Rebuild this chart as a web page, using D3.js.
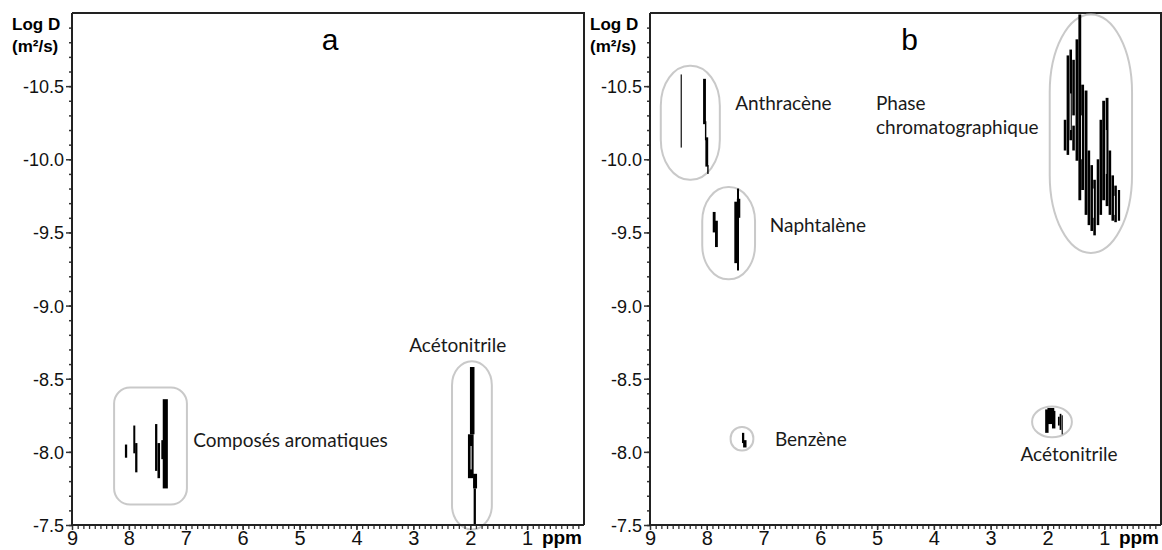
<!DOCTYPE html>
<html>
<head>
<meta charset="utf-8">
<script src="https://cdn.jsdelivr.net/npm/d3@7"></script>
<style>
  body { margin: 0; background: #fff; }
  svg text { font-family: "Liberation Sans", Arial, sans-serif; }
  .note { font-family: Lato, "Open Sans", sans-serif; font-size: 19px; fill: #1a1a1a; }
</style>
</head>
<body>
<svg id="chart" width="1162" height="550"></svg>
<script>
const ppmTicks = [9, 8, 7, 6, 5, 4, 3, 2, 1];
const logDTicks = [-10.5, -10.0, -9.5, -9.0, -8.5, -8.0, -7.5];
const ppmDomain = [9, 0];
const logDDomain = [-11, -7.5];
const panelLetters = ["a", "b"];

// peaks: [ppm, logD top, logD bottom, width (ppm)]
const aromaticPeaksA = [
  [8.05, -8.05, -7.96, 0.04],
  [7.905, -8.18, -7.99, 0.035],
  [7.87, -8.06, -7.86, 0.04],
  [7.52, -8.19, -7.87, 0.04],
  [7.475, -8.06, -7.82, 0.045],
  [7.41, -8.08, -7.95, 0.04],
  [7.36, -8.36, -7.75, 0.09]
];
const acetonitrilePeaksA = [
  [1.965, -8.58, -8.12, 0.08],
  [1.99, -8.12, -7.82, 0.1],
  [1.915, -7.85, -7.75, 0.07],
  [1.92, -7.75, -7.5, 0.04]
];
const acetonitrileGapsA = [[1.985, -8.04, -7.88, 0.02]];

const anthracenePeaks = [
  [8.45, -10.58, -10.08, 0.02],
  [8.04, -10.55, -10.24, 0.05],
  [8.02, -10.26, -10.13, 0.025],
  [8.0, -10.15, -9.95, 0.05],
  [7.98, -9.96, -9.9, 0.025]
];
const naphtalenePeaks = [
  [7.87, -9.64, -9.50, 0.05],
  [7.83, -9.58, -9.40, 0.05],
  [7.49, -9.71, -9.29, 0.05],
  [7.44, -9.73, -9.60, 0.06],
  [7.45, -9.80, -9.24, 0.035]
];
const benzenePeaks = [
  [7.36, -8.13, -8.06, 0.04],
  [7.33, -8.08, -8.03, 0.06]
];
const acetonitrilePeaksB = [
  [2.01, -8.29, -8.13, 0.06],
  [1.94, -8.30, -8.19, 0.12],
  [1.89, -8.28, -8.16, 0.06],
  [1.80, -8.24, -8.18, 0.03],
  [1.77, -8.26, -8.15, 0.03],
  [1.74, -8.25, -8.12, 0.02]
];
const phasePeaks = [
  [1.69, -10.27, -10.06, 0.045],
  [1.64, -10.71, -10.03, 0.045],
  [1.59, -10.75, -10.13, 0.045],
  [1.54, -10.68, -10.30, 0.045],
  [1.54, -10.23, -10.06, 0.045],
  [1.48, -10.82, -9.99, 0.05],
  [1.43, -10.99, -9.72, 0.05],
  [1.38, -10.51, -9.79, 0.05],
  [1.32, -10.47, -9.62, 0.05],
  [1.27, -10.06, -9.55, 0.045],
  [1.22, -9.96, -9.51, 0.045],
  [1.17, -9.86, -9.48, 0.045],
  [1.11, -10.0, -9.55, 0.045],
  [1.06, -10.27, -9.62, 0.045],
  [1.01, -10.40, -9.72, 0.05],
  [0.95, -10.42, -9.68, 0.05],
  [0.90, -10.06, -9.62, 0.045],
  [0.85, -9.89, -9.58, 0.045],
  [0.80, -9.82, -9.57, 0.045],
  [0.74, -9.79, -9.58, 0.04]
];
const phaseGaps = [
  [1.59, -10.45, -10.2, 0.015],
  [1.40, -10.3, -10.0, 0.015],
  [1.19, -9.8, -9.6, 0.015],
  [0.97, -10.2, -9.9, 0.015],
  [0.82, -9.75, -9.62, 0.015]
];

// boxes: [name, ppm left, ppm right, logD top, logD bottom]
const boxesA = [
  ["arom", 8.26, 6.98, -8.44, -7.64],
  ["acnA", 2.32, 1.62, -8.62, -7.47]
];
const boxesB = [
  ["anth", 8.81, 7.77, -10.64, -9.86],
  ["naph", 8.08, 7.15, -9.81, -9.18],
  ["phase", 1.96, 0.51, -10.99, -9.36],
  ["benz", 7.58, 7.18, -8.17, -8.01],
  ["acnB", 2.27, 1.57, -8.31, -8.10]
];

// labels: [text, ppm, logD, anchor]
const labelsA = [
  ["Composés aromatiques", 6.87, -8.03, "start"],
  ["Acétonitrile", 2.22, -8.68, "middle"]
];
const labelsB = [
  ["Anthracène", 7.5, -10.34, "start"],
  ["Naphtalène", 6.89, -9.5, "start"],
  ["Phase", 5.02, -10.34, "start"],
  ["chromatographique", 5.02, -10.17, "start"],
  ["Benzène", 6.8, -8.04, "start"],
  ["Acétonitrile", 1.62, -7.94, "middle"]
];

const boxRadius = {
  arom: [16, 16], acnA: [20, 24], anth: [29, 40], naph: [26, 34],
  phase: [41, 78], benz: [11, 11], acnB: [20, 15]
};

const svg = d3.select("#chart");
const plotTop = 13, plotBottom = 525;
const panels = [
  { left: 72, right: 584, boxes: boxesA, labels: labelsA,
    peaks: [aromaticPeaksA, acetonitrilePeaksA], gaps: acetonitrileGapsA },
  { left: 650, right: 1161, boxes: boxesB, labels: labelsB,
    peaks: [anthracenePeaks, naphtalenePeaks, benzenePeaks, acetonitrilePeaksB, phasePeaks], gaps: phaseGaps }
];

panels.forEach((p, i) => {
  const x = d3.scaleLinear().domain(ppmDomain).range([p.left, p.right]);
  const y = d3.scaleLinear().domain(logDDomain).range([plotTop, plotBottom]);
  const g = svg.append("g");

  // frame top + right
  g.append("path")
    .attr("d", `M${p.left},${plotTop}H${p.right}V${plotBottom}`)
    .attr("fill", "none").attr("stroke", "#222").attr("stroke-width", 2);

  // grey enclosures
  g.selectAll("rect.box").data(p.boxes).join("rect")
    .attr("class", "box")
    .attr("x", d => x(d[1])).attr("y", d => y(d[3]))
    .attr("width", d => x(d[2]) - x(d[1]))
    .attr("height", d => y(d[4]) - y(d[3]))
    .attr("rx", d => boxRadius[d[0]][0]).attr("ry", d => boxRadius[d[0]][1])
    .attr("fill", "none").attr("stroke", "#c9c9c9").attr("stroke-width", 2);

  // peaks
  const allPeaks = p.peaks.flat();
  const pw = d => Math.max(1, x(d[0] - d[3] / 2) - x(d[0] + d[3] / 2));
  g.selectAll("rect.peak").data(allPeaks).join("rect")
    .attr("class", "peak")
    .attr("x", d => x(d[0]) - pw(d) / 2).attr("y", d => y(d[1]))
    .attr("width", pw).attr("height", d => y(d[2]) - y(d[1]))
    .attr("fill", "#000");
  g.selectAll("rect.gap").data(p.gaps).join("rect")
    .attr("class", "gap")
    .attr("x", d => x(d[0]) - pw(d) / 2).attr("y", d => y(d[1]))
    .attr("width", pw).attr("height", d => y(d[2]) - y(d[1]))
    .attr("fill", "#ddd");

  // labels
  g.selectAll("text.note").data(p.labels).join("text")
    .attr("class", "note")
    .attr("x", d => x(d[1])).attr("y", d => y(d[2]))
    .attr("text-anchor", d => d[3])
    .text(d => d[0]);

  g.append("text")
    .attr("x", (p.left + p.right) / 2 + (i === 0 ? 2 : 4)).attr("y", 50)
    .attr("text-anchor", "middle")
    .style("font-size", "30px")
    .text(panelLetters[i]);

  // y axis
  const minorY = d3.range(-10.9, -7.45, 0.1).map(v => +v.toFixed(1));
  g.append("g").attr("transform", `translate(${p.left},0)`)
    .call(d3.axisLeft(y).tickValues(minorY).tickSize(3).tickFormat(""))
    .call(a => a.select(".domain").remove())
    .call(a => a.selectAll("line").attr("stroke", "#333").attr("stroke-width", 1.5));
  g.append("g").attr("transform", `translate(${p.left},0)`)
    .call(d3.axisLeft(y).tickValues(logDTicks).tickSize(6).tickPadding(2).tickFormat(d => d.toFixed(1)))
    .call(a => a.select(".domain").remove())
    .call(a => a.selectAll("line").attr("stroke", "#333").attr("stroke-width", 1.5))
    .call(a => a.selectAll("text").style("font-size", "18px").attr("fill", "#111").attr("dy", "0.36em"));

  // x axis
  const minorX = d3.range(0.1, 9, 0.1).map(v => +v.toFixed(1));
  g.append("g").attr("transform", `translate(0,${plotBottom})`)
    .call(d3.axisBottom(x).tickValues(minorX).tickSize(4).tickFormat(""))
    .call(a => a.select(".domain").remove())
    .call(a => a.selectAll("line").attr("stroke", "#333").attr("stroke-width", 1.3));
  g.append("g").attr("transform", `translate(0,${plotBottom})`)
    .call(d3.axisBottom(x).tickValues(ppmTicks).tickSize(5).tickPadding(3).tickFormat(d3.format("d")))
    .call(a => a.select(".domain").remove())
    .call(a => a.selectAll("line").attr("stroke", "#333").attr("stroke-width", 1.5))
    .call(a => a.selectAll("text").style("font-size", "20px").attr("fill", "#111").attr("dy", "0.6em"));

  // axis lines
  g.append("path")
    .attr("d", `M${p.left},${plotTop}V${plotBottom}H${p.right}`)
    .attr("fill", "none").attr("stroke", "#222").attr("stroke-width", 2);

  g.append("text")
    .attr("x", p.right - 2).attr("y", plotBottom + 19)
    .attr("text-anchor", "end")
    .style("font-size", "19px").style("font-weight", "bold")
    .text("ppm");

  g.append("text").attr("x", p.left - 60).attr("y", 30)
    .style("font-size", "17px").style("font-weight", "bold").text("Log D");
  g.append("text").attr("x", p.left - 60).attr("y", 52)
    .style("font-size", "17px").style("font-weight", "bold").text("(m²/s)");
});
</script>
</body>
</html>
